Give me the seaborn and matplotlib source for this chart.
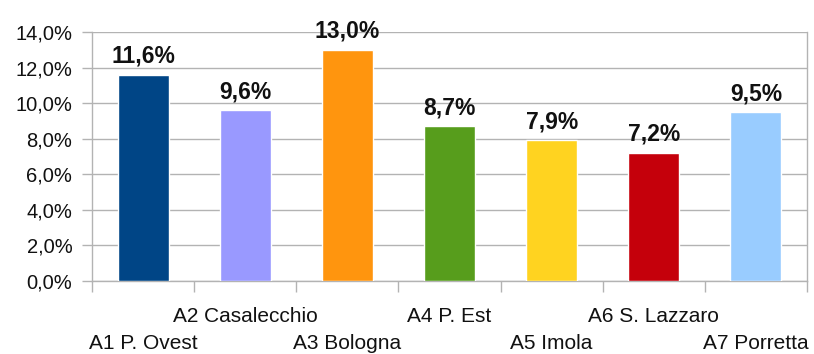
import matplotlib
matplotlib.use("Agg")
import matplotlib.pyplot as plt
import matplotlib.transforms as mtransforms
from matplotlib.ticker import FuncFormatter, FixedLocator
import seaborn as sns
import pandas as pd

categories = ["A1 P. Ovest", "A2 Casalecchio", "A3 Bologna", "A4 P. Est",
              "A5 Imola", "A6 S. Lazzaro", "A7 Porretta"]
values = [11.6, 9.6, 13.0, 8.7, 7.9, 7.2, 9.5]
colors = ["#004586", "#9999ff", "#ff950e", "#579d1c", "#ffd320", "#c5000b", "#99ccff"]
y_ticks = [0, 2, 4, 6, 8, 10, 12, 14]

sns.set_theme(style="white")
plt.rcParams["font.family"] = ["Liberation Sans", "DejaVu Sans"]

df = pd.DataFrame({"zone": categories, "value": values})

fig = plt.figure(figsize=(8.14, 3.54), dpi=100)
ax = fig.add_axes([92 / 814, 1 - 281 / 354, (807 - 92) / 814, (281 - 32) / 354])

sns.barplot(data=df, x="zone", y="value", hue="zone", palette=colors,
            width=0.5, saturation=1, legend=False, ax=ax, zorder=3)

grid_c = "#b3b3b3"
ax.set_ylim(0, 14)
ax.set_xlim(-0.5, len(categories) - 0.5)
ax.set_yticks(y_ticks)
ax.yaxis.set_major_formatter(FuncFormatter(lambda v, p: f"{v:.1f}".replace(".", ",") + "%"))
ax.grid(axis="y", color=grid_c, linewidth=1, zorder=0)
ax.set_axisbelow(True)
ax.set_xlabel("")
ax.set_ylabel("")

for s in ["left", "right", "bottom"]:
    ax.spines[s].set_visible(True)
    ax.spines[s].set_color(grid_c)
    ax.spines[s].set_linewidth(1)
ax.spines["top"].set_visible(False)

ax.tick_params(axis="y", length=7.2, width=1, color=grid_c, pad=7,
               labelsize=14.5, labelcolor="#111111", left=True)
ax.xaxis.set_minor_locator(FixedLocator([i - 0.5 for i in range(len(categories) + 1)]))
ax.tick_params(axis="x", which="minor", length=8, width=1, color=grid_c, bottom=True)
ax.tick_params(axis="x", which="major", length=0, pad=18.5, labelsize=15, labelcolor="#111111")

# staggered category labels: odd positions go on a lower row
ax.set_xticks(range(len(categories)))
ax.set_xticklabels(categories)
shift = mtransforms.ScaledTranslation(0, -27 / 100, fig.dpi_scale_trans)
for i, lab in enumerate(ax.get_xticklabels()):
    if i % 2 == 0:
        lab.set_transform(lab.get_transform() + shift)

for i, v in enumerate(values):
    ax.annotate(f"{v:.1f}".replace(".", ",") + "%", (i, v), xytext=(0, 8.6),
                textcoords="offset points", ha="center", va="baseline",
                fontsize=16.5, fontweight="bold", color="#111111")

fig.savefig("out.png", dpi=100)
